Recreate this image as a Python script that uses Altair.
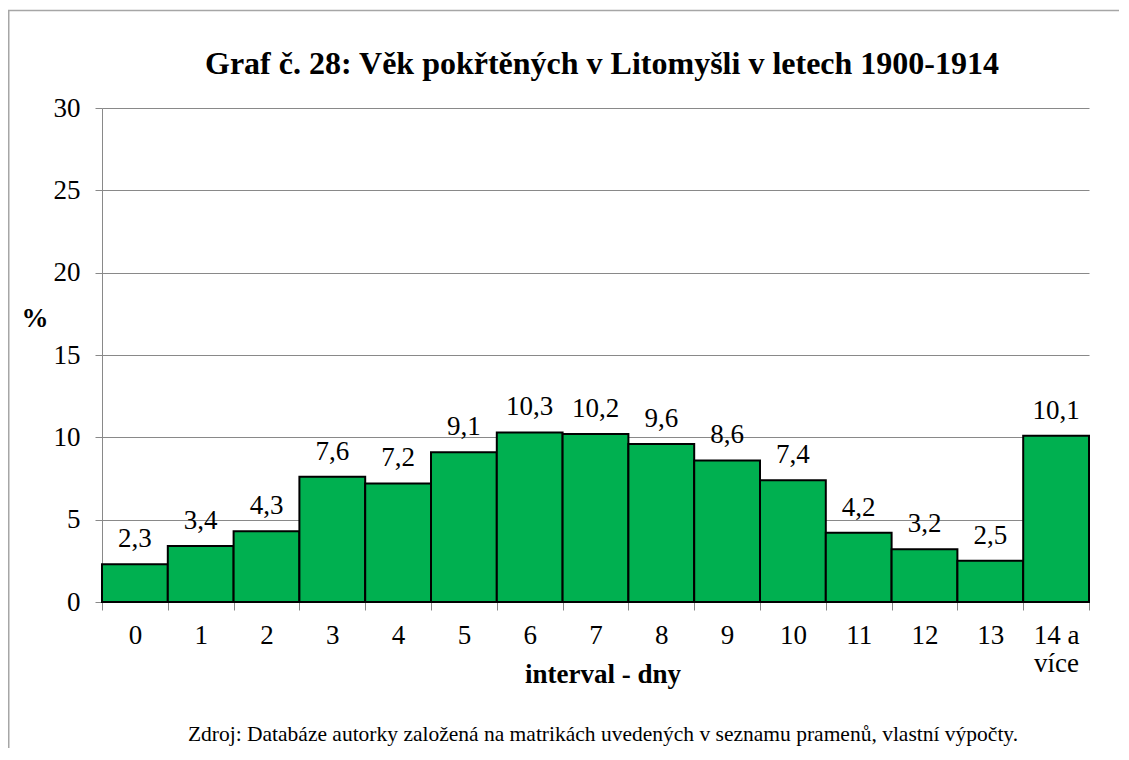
import altair as alt
import pandas as pd

categories = ["0", "1", "2", "3", "4", "5", "6", "7", "8", "9", "10", "11", "12", "13", "14 a více"]
values = [2.3, 3.4, 4.3, 7.6, 7.2, 9.1, 10.3, 10.2, 9.6, 8.6, 7.4, 4.2, 3.2, 2.5, 10.1]
labels = [f"{v:.1f}".replace(".", ",") for v in values]

title_text = "Graf č. 28: Věk pokřtěných v Litomyšli v letech 1900-1914"
x_title = "interval - dny"
y_title = "%"
source_text = "Zdroj: Databáze autorky založená na matrikách uvedených v seznamu pramenů, vlastní výpočty."

df = pd.DataFrame({"cat": categories, "val": values, "lab": labels})

FONT = "'Liberation Serif', 'Times New Roman', Times, serif"
W, H = 987, 494
PL, PT = 94, 100

x_enc = alt.X(
    "cat:N",
    sort=categories,
    scale=alt.Scale(paddingInner=0, paddingOuter=0),
    axis=alt.Axis(
        title=None,
        labelAngle=0,
        labelFont=FONT,
        labelFontSize=27,
        labelColor="black",
        labelPadding=12,
        labelLineHeight=28,
        labelExpr="datum.label == '14 a více' ? ['14 a', 'více'] : datum.label",
        tickBand="extent",
        tickSize=8,
        tickColor="#898989",
        domainColor="#898989",
        grid=False,
    ),
)
y_enc = alt.Y(
    "val:Q",
    scale=alt.Scale(domain=[0, 30], nice=False),
    axis=alt.Axis(
        title=None,
        values=[0, 5, 10, 15, 20, 25, 30],
        labelFont=FONT,
        labelFontSize=27,
        labelColor="black",
        labelPadding=15,
        tickSize=7,
        tickColor="#898989",
        domainColor="#898989",
        gridColor="#898989",
        gridWidth=1,
    ),
)

base = alt.Chart(df)

bars = base.mark_bar(color="#00B050", stroke="black", strokeWidth=2).encode(x=x_enc, y=y_enc)

bar_labels = base.mark_text(
    font=FONT, fontSize=27, color="black", baseline="alphabetic", dy=-17
).encode(x=alt.X("cat:N", sort=categories), y="val:Q", text="lab:N")

def deco_text(txt, x, y, size, weight="normal", align="center"):
    return alt.Chart(pd.DataFrame({"t": [txt]})).mark_text(
        font=FONT, fontSize=size, fontWeight=weight, color="black",
        align=align, baseline="alphabetic",
    ).encode(x=alt.value(x), y=alt.value(y), text="t:N")

border = alt.Chart(pd.DataFrame({"a": [0]})).mark_rect(
    fill=None, stroke="#a6a6a6", strokeWidth=1.5
).encode(
    x=alt.value(-PL + 0.75), x2=alt.value(W + 60),
    y=alt.value(-PT + 2.5), y2=alt.value(H + 200),
)

chart = alt.layer(
    border,
    bars,
    bar_labels,
    deco_text(title_text, 500, -34, 32, "bold"),
    deco_text(y_title, -67, 219, 27, "bold"),
    deco_text(x_title, 501, 575, 27, "bold"),
    deco_text(source_text, 501, 633, 21.5),
).properties(
    width=W, height=H,
    autosize=alt.AutoSizeParams(type="none"),
    padding={"left": PL, "top": PT, "right": 30, "bottom": 146},
).configure_view(stroke=None)

chart.save("out.html", embed_options={"renderer": "svg", "actions": False})
